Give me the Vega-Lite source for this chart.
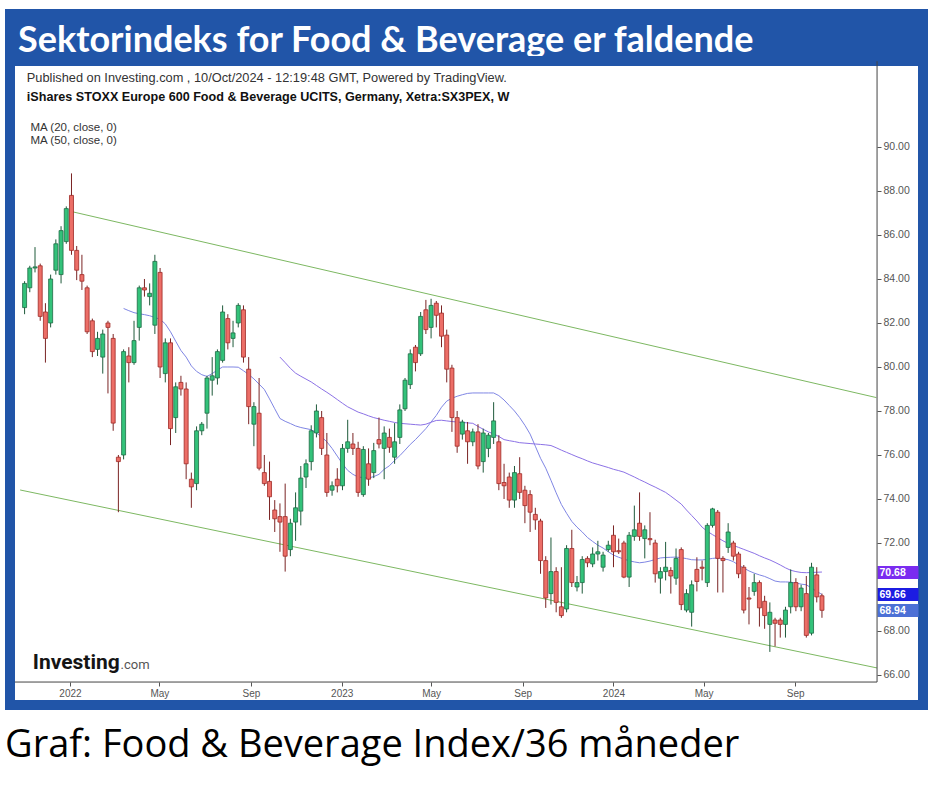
{
"$schema": "https://vega.github.io/schema/vega-lite/v6.json",
"background": "white",
"padding": {"left": 5, "top": 9, "right": 5, "bottom": 5},
"config": {"view": {"stroke": null}, "font": "Liberation Sans"},
"title": {"text": "Graf: Food & Beverage Index/36 måneder", "orient": "bottom", "anchor": "start", "font": "Open Sans", "fontSize": 38, "fontWeight": "normal", "color": "#000000", "offset": 17},
"spacing": 0,
"bounds": "flush",
"datasets": {
"bars": [
{"d":"2021-11-01","o":82.7,"h":83.9,"l":82.4,"c":83.8},
{"d":"2021-11-08","o":83.6,"h":84.6,"l":83.4,"c":84.5},
{"d":"2021-11-15","o":84.5,"h":85.45,"l":84.3,"c":84.55},
{"d":"2021-11-22","o":84.6,"h":84.7,"l":82.1,"c":82.3},
{"d":"2021-11-29","o":82.5,"h":82.9,"l":80.2,"c":81.3},
{"d":"2021-12-06","o":82.0,"h":84.2,"l":81.8,"c":84.0},
{"d":"2021-12-13","o":84.4,"h":85.8,"l":84.2,"c":85.6},
{"d":"2021-12-20","o":84.2,"h":86.4,"l":83.8,"c":86.2},
{"d":"2021-12-27","o":85.7,"h":87.3,"l":85.6,"c":87.2},
{"d":"2022-01-03","o":87.8,"h":88.8,"l":85.1,"c":85.3},
{"d":"2022-01-10","o":85.3,"h":85.5,"l":83.95,"c":84.4},
{"d":"2022-01-17","o":84.2,"h":85.1,"l":83.5,"c":83.9},
{"d":"2022-01-24","o":83.6,"h":83.7,"l":81.5,"c":81.6},
{"d":"2022-01-31","o":82.1,"h":82.2,"l":80.45,"c":80.7},
{"d":"2022-02-07","o":80.8,"h":81.6,"l":80.5,"c":81.3},
{"d":"2022-02-14","o":80.45,"h":81.7,"l":79.7,"c":81.5},
{"d":"2022-02-21","o":82.0,"h":82.1,"l":78.8,"c":81.8},
{"d":"2022-02-28","o":81.3,"h":81.5,"l":77.1,"c":77.45},
{"d":"2022-03-07","o":75.9,"h":76.0,"l":73.4,"c":75.7},
{"d":"2022-03-14","o":76.0,"h":80.8,"l":75.8,"c":80.7,"m20":82.66},
{"d":"2022-03-21","o":80.5,"h":80.9,"l":79.3,"c":80.2,"m20":82.56},
{"d":"2022-03-28","o":80.2,"h":82.1,"l":80.1,"c":81.2,"m20":82.47},
{"d":"2022-04-04","o":81.8,"h":83.7,"l":81.2,"c":83.6,"m20":82.42},
{"d":"2022-04-11","o":83.6,"h":84.0,"l":83.2,"c":83.5,"m20":82.38},
{"d":"2022-04-18","o":83.2,"h":83.8,"l":82.8,"c":83.35,"m20":82.33},
{"d":"2022-04-25","o":81.9,"h":85.1,"l":81.5,"c":84.8,"m20":82.25},
{"d":"2022-05-02","o":84.3,"h":84.5,"l":79.5,"c":80.0,"m20":82.17},
{"d":"2022-05-09","o":79.7,"h":81.3,"l":79.3,"c":81.1,"m20":81.96},
{"d":"2022-05-16","o":81.1,"h":81.3,"l":76.45,"c":77.2,"m20":81.6},
{"d":"2022-05-23","o":77.7,"h":79.3,"l":77.0,"c":79.1,"m20":81.17},
{"d":"2022-05-30","o":79.3,"h":79.6,"l":78.7,"c":79.0,"m20":80.75},
{"d":"2022-06-06","o":79.0,"h":79.3,"l":74.9,"c":75.6,"m20":80.45},
{"d":"2022-06-13","o":74.9,"h":75.2,"l":73.6,"c":74.55,"m20":80.05},
{"d":"2022-06-20","o":74.7,"h":77.3,"l":74.4,"c":77.1,"m20":79.8},
{"d":"2022-06-27","o":77.1,"h":77.5,"l":76.9,"c":77.4,"m20":79.65},
{"d":"2022-07-04","o":77.9,"h":79.6,"l":77.2,"c":79.5,"m20":79.57},
{"d":"2022-07-11","o":79.4,"h":80.45,"l":78.7,"c":79.6,"m20":79.7},
{"d":"2022-07-18","o":79.5,"h":80.8,"l":79.2,"c":80.7,"m20":79.86},
{"d":"2022-07-25","o":80.3,"h":82.8,"l":80.2,"c":82.5,"m20":80.0},
{"d":"2022-08-01","o":82.2,"h":82.4,"l":80.8,"c":81.1,"m20":80.0},
{"d":"2022-08-08","o":81.3,"h":82.1,"l":80.9,"c":81.55,"m20":80.0},
{"d":"2022-08-15","o":82.0,"h":82.9,"l":81.8,"c":82.8,"m20":79.99},
{"d":"2022-08-22","o":82.6,"h":82.8,"l":80.2,"c":80.45,"m20":79.83},
{"d":"2022-08-29","o":79.9,"h":80.45,"l":77.4,"c":78.2,"m20":79.66},
{"d":"2022-09-05","o":77.4,"h":78.4,"l":76.4,"c":78.2,"m20":79.46},
{"d":"2022-09-12","o":77.9,"h":79.5,"l":75.3,"c":75.4,"m20":79.22},
{"d":"2022-09-19","o":75.2,"h":76.0,"l":74.6,"c":74.7,"m20":78.98},
{"d":"2022-09-26","o":74.8,"h":75.7,"l":73.05,"c":74.1,"m20":78.55},
{"d":"2022-10-03","o":73.5,"h":73.95,"l":72.5,"c":73.1,"m20":78.1},
{"d":"2022-10-10","o":73.2,"h":73.8,"l":71.6,"c":72.95,"m20":77.66,"m50":80.45},
{"d":"2022-10-17","o":73.2,"h":74.7,"l":70.7,"c":71.4,"m20":77.53,"m50":80.2},
{"d":"2022-10-24","o":71.7,"h":73.1,"l":71.4,"c":72.9,"m20":77.43,"m50":79.94},
{"d":"2022-10-31","o":72.95,"h":74.3,"l":72.1,"c":73.6,"m20":77.32,"m50":79.72},
{"d":"2022-11-07","o":73.45,"h":75.5,"l":72.8,"c":74.95,"m20":77.25,"m50":79.58},
{"d":"2022-11-14","o":75.0,"h":75.8,"l":74.5,"c":75.6,"m20":77.2,"m50":79.45},
{"d":"2022-11-21","o":75.7,"h":77.35,"l":75.3,"c":77.1,"m20":77.15,"m50":79.32},
{"d":"2022-11-28","o":77.0,"h":78.3,"l":76.8,"c":78.0,"m20":77.0,"m50":79.16},
{"d":"2022-12-05","o":77.7,"h":78.0,"l":76.0,"c":76.3,"m20":76.82,"m50":79.0},
{"d":"2022-12-12","o":76.0,"h":77.0,"l":74.1,"c":74.3,"m20":76.6,"m50":78.85},
{"d":"2022-12-19","o":74.4,"h":74.8,"l":74.15,"c":74.6,"m20":76.3,"m50":78.69},
{"d":"2022-12-26","o":74.9,"h":75.4,"l":74.3,"c":74.6,"m20":75.95,"m50":78.52},
{"d":"2023-01-02","o":74.6,"h":76.5,"l":74.4,"c":76.3,"m20":75.6,"m50":78.35},
{"d":"2023-01-09","o":76.3,"h":77.6,"l":76.1,"c":76.6,"m20":75.3,"m50":78.19},
{"d":"2023-01-16","o":76.5,"h":77.0,"l":76.0,"c":76.3,"m20":75.12,"m50":78.07},
{"d":"2023-01-23","o":76.3,"h":76.6,"l":74.1,"c":74.3,"m20":75.0,"m50":77.95},
{"d":"2023-01-30","o":74.2,"h":76.4,"l":74.1,"c":76.25,"m20":74.97,"m50":77.87},
{"d":"2023-02-06","o":75.6,"h":76.3,"l":74.6,"c":74.9,"m20":74.95,"m50":77.78},
{"d":"2023-02-13","o":75.2,"h":76.55,"l":74.95,"c":76.2,"m20":75.02,"m50":77.7},
{"d":"2023-02-20","o":76.7,"h":77.7,"l":76.3,"c":76.5,"m20":75.12,"m50":77.64},
{"d":"2023-02-27","o":76.3,"h":77.3,"l":74.9,"c":77.0,"m20":75.35,"m50":77.58},
{"d":"2023-03-06","o":76.8,"h":77.2,"l":76.1,"c":76.35,"m20":75.51,"m50":77.53},
{"d":"2023-03-13","o":75.9,"h":77.45,"l":75.6,"c":76.6,"m20":75.75,"m50":77.48},
{"d":"2023-03-20","o":76.8,"h":78.3,"l":76.5,"c":78.05,"m20":75.97,"m50":77.44},
{"d":"2023-03-27","o":78.1,"h":79.5,"l":78.0,"c":79.4,"m20":76.22,"m50":77.42},
{"d":"2023-04-03","o":79.2,"h":80.8,"l":79.0,"c":80.6,"m20":76.48,"m50":77.4},
{"d":"2023-04-10","o":80.9,"h":81.0,"l":79.8,"c":80.2,"m20":76.7,"m50":77.38},
{"d":"2023-04-17","o":80.6,"h":82.5,"l":80.5,"c":82.3,"m20":76.95,"m50":77.36},
{"d":"2023-04-24","o":82.6,"h":83.05,"l":81.5,"c":81.7,"m20":77.2,"m50":77.4},
{"d":"2023-05-01","o":81.8,"h":83.1,"l":81.3,"c":82.8,"m20":77.5,"m50":77.49},
{"d":"2023-05-08","o":82.9,"h":83.0,"l":81.8,"c":82.35,"m20":77.8,"m50":77.57},
{"d":"2023-05-15","o":82.45,"h":82.8,"l":80.9,"c":81.4,"m20":78.17,"m50":77.58},
{"d":"2023-05-22","o":81.45,"h":81.7,"l":79.3,"c":79.9,"m20":78.45,"m50":77.55},
{"d":"2023-05-29","o":79.95,"h":80.1,"l":77.05,"c":77.7,"m20":78.58,"m50":77.52},
{"d":"2023-06-05","o":77.7,"h":78.0,"l":76.1,"c":76.4,"m20":78.67,"m50":77.5},
{"d":"2023-06-12","o":76.95,"h":77.6,"l":76.7,"c":77.5,"m20":78.74,"m50":77.48},
{"d":"2023-06-19","o":77.1,"h":77.5,"l":75.6,"c":76.6,"m20":78.8,"m50":77.46},
{"d":"2023-06-26","o":76.6,"h":77.2,"l":76.4,"c":77.05,"m20":78.82,"m50":77.44},
{"d":"2023-07-03","o":77.05,"h":77.4,"l":75.35,"c":75.5,"m20":78.82,"m50":77.3},
{"d":"2023-07-10","o":75.7,"h":77.2,"l":75.2,"c":77.0,"m20":78.82,"m50":77.17},
{"d":"2023-07-17","o":76.3,"h":77.0,"l":75.9,"c":76.9,"m20":78.82,"m50":77.05},
{"d":"2023-07-24","o":76.8,"h":78.4,"l":76.5,"c":77.55,"m20":78.82,"m50":76.96},
{"d":"2023-07-31","o":76.6,"h":76.9,"l":74.4,"c":74.7,"m20":78.7,"m50":76.84},
{"d":"2023-08-07","o":74.75,"h":75.6,"l":74.0,"c":74.6,"m20":78.5,"m50":76.7},
{"d":"2023-08-14","o":75.0,"h":75.2,"l":73.6,"c":73.95,"m20":78.25,"m50":76.65},
{"d":"2023-08-21","o":73.95,"h":75.5,"l":73.6,"c":75.2,"m20":78.0,"m50":76.61},
{"d":"2023-08-28","o":75.15,"h":75.9,"l":74.0,"c":74.3,"m20":77.7,"m50":76.56},
{"d":"2023-09-04","o":74.4,"h":74.6,"l":72.9,"c":73.7,"m20":77.35,"m50":76.54},
{"d":"2023-09-11","o":74.2,"h":74.4,"l":72.5,"c":73.4,"m20":76.95,"m50":76.52},
{"d":"2023-09-18","o":73.3,"h":73.6,"l":72.6,"c":73.05,"m20":76.4,"m50":76.5},
{"d":"2023-09-25","o":73.0,"h":73.1,"l":70.6,"c":71.2,"m20":75.85,"m50":76.48},
{"d":"2023-10-02","o":71.2,"h":71.4,"l":69.05,"c":69.5,"m20":75.4,"m50":76.46},
{"d":"2023-10-09","o":69.7,"h":72.25,"l":69.2,"c":70.7,"m20":74.85,"m50":76.43},
{"d":"2023-10-16","o":70.7,"h":70.9,"l":68.85,"c":69.3,"m20":74.28,"m50":76.33},
{"d":"2023-10-23","o":69.1,"h":70.9,"l":68.6,"c":68.7,"m20":73.75,"m50":76.22},
{"d":"2023-10-30","o":69.0,"h":71.9,"l":68.85,"c":71.75,"m20":73.35,"m50":76.12},
{"d":"2023-11-06","o":71.75,"h":72.6,"l":70.0,"c":70.2,"m20":72.98,"m50":76.02},
{"d":"2023-11-13","o":70.0,"h":70.5,"l":69.8,"c":70.2,"m20":72.72,"m50":75.92},
{"d":"2023-11-20","o":70.2,"h":71.4,"l":69.7,"c":71.25,"m20":72.5,"m50":75.83},
{"d":"2023-11-27","o":71.3,"h":71.4,"l":70.9,"c":71.1,"m20":72.25,"m50":75.73},
{"d":"2023-12-04","o":71.05,"h":71.8,"l":70.9,"c":71.5,"m20":72.07,"m50":75.64},
{"d":"2023-12-11","o":71.5,"h":72.1,"l":71.2,"c":71.6,"m20":71.9,"m50":75.57},
{"d":"2023-12-18","o":70.9,"h":71.6,"l":70.7,"c":71.45,"m20":71.77,"m50":75.5},
{"d":"2023-12-25","o":71.7,"h":72.1,"l":71.6,"c":71.9,"m20":71.6,"m50":75.43},
{"d":"2024-01-01","o":72.35,"h":72.8,"l":70.9,"c":71.6,"m20":71.45,"m50":75.35},
{"d":"2024-01-08","o":71.65,"h":72.2,"l":71.5,"c":71.6,"m20":71.35,"m50":75.29},
{"d":"2024-01-15","o":72.0,"h":72.1,"l":70.4,"c":70.45,"m20":71.27,"m50":75.22},
{"d":"2024-01-22","o":70.45,"h":72.5,"l":70.0,"c":72.35,"m20":71.19,"m50":75.11},
{"d":"2024-01-29","o":72.3,"h":73.7,"l":72.1,"c":72.6,"m20":71.14,"m50":75.0},
{"d":"2024-02-05","o":72.9,"h":74.3,"l":72.1,"c":72.3,"m20":71.1,"m50":74.88},
{"d":"2024-02-12","o":72.2,"h":72.8,"l":71.3,"c":72.6,"m20":71.13,"m50":74.77},
{"d":"2024-02-19","o":72.2,"h":73.4,"l":71.9,"c":72.15,"m20":71.18,"m50":74.65},
{"d":"2024-02-26","o":72.0,"h":72.15,"l":70.2,"c":70.6,"m20":71.25,"m50":74.54},
{"d":"2024-03-04","o":70.4,"h":70.9,"l":69.7,"c":70.7,"m20":71.32,"m50":74.42},
{"d":"2024-03-11","o":70.7,"h":72.05,"l":70.3,"c":70.9,"m20":71.34,"m50":74.3},
{"d":"2024-03-18","o":70.75,"h":70.9,"l":69.7,"c":70.5,"m20":71.35,"m50":74.13},
{"d":"2024-03-25","o":70.4,"h":71.75,"l":70.1,"c":71.3,"m20":71.36,"m50":73.95},
{"d":"2024-04-01","o":71.7,"h":71.8,"l":68.95,"c":69.2,"m20":71.33,"m50":73.77},
{"d":"2024-04-08","o":68.95,"h":69.9,"l":68.85,"c":69.7,"m20":71.29,"m50":73.5},
{"d":"2024-04-15","o":68.85,"h":70.3,"l":68.2,"c":70.1,"m20":71.24,"m50":73.25},
{"d":"2024-04-22","o":70.8,"h":71.35,"l":69.8,"c":70.25,"m20":71.23,"m50":73.0},
{"d":"2024-04-29","o":70.9,"h":71.2,"l":70.3,"c":70.85,"m20":71.23,"m50":72.72},
{"d":"2024-05-06","o":70.2,"h":72.9,"l":70.0,"c":72.8,"m20":71.26,"m50":72.53},
{"d":"2024-05-13","o":72.8,"h":73.6,"l":72.7,"c":73.55,"m20":71.3,"m50":72.38},
{"d":"2024-05-20","o":73.4,"h":73.5,"l":69.75,"c":71.3,"m20":71.32,"m50":72.24},
{"d":"2024-05-27","o":71.3,"h":71.4,"l":69.75,"c":71.2,"m20":71.28,"m50":72.1},
{"d":"2024-06-03","o":71.8,"h":72.9,"l":71.55,"c":72.5,"m20":71.24,"m50":71.98},
{"d":"2024-06-10","o":72.0,"h":72.1,"l":71.2,"c":71.4,"m20":71.15,"m50":71.89},
{"d":"2024-06-17","o":71.5,"h":71.6,"l":70.4,"c":70.6,"m20":71.0,"m50":71.8},
{"d":"2024-06-24","o":70.9,"h":71.0,"l":68.8,"c":68.95,"m20":70.86,"m50":71.71},
{"d":"2024-07-01","o":69.5,"h":70.0,"l":68.3,"c":69.45,"m20":70.73,"m50":71.62},
{"d":"2024-07-08","o":69.8,"h":70.6,"l":69.6,"c":70.2,"m20":70.63,"m50":71.53},
{"d":"2024-07-15","o":70.2,"h":70.3,"l":68.2,"c":69.05,"m20":70.55,"m50":71.42},
{"d":"2024-07-22","o":69.35,"h":69.6,"l":68.1,"c":68.7,"m20":70.48,"m50":71.32},
{"d":"2024-07-29","o":68.3,"h":69.3,"l":67.05,"c":68.85,"m20":70.38,"m50":71.23},
{"d":"2024-08-05","o":68.5,"h":68.6,"l":67.3,"c":68.35,"m20":70.27,"m50":71.12},
{"d":"2024-08-12","o":68.5,"h":68.6,"l":67.7,"c":68.3,"m20":70.23,"m50":71.0},
{"d":"2024-08-19","o":68.3,"h":69.1,"l":67.7,"c":68.95,"m20":70.23,"m50":70.87},
{"d":"2024-08-26","o":69.1,"h":70.8,"l":68.8,"c":70.2,"m20":70.22,"m50":70.76},
{"d":"2024-09-02","o":70.2,"h":70.4,"l":68.9,"c":69.1,"m20":70.18,"m50":70.7},
{"d":"2024-09-09","o":69.1,"h":70.1,"l":68.9,"c":69.95,"m20":70.13,"m50":70.66},
{"d":"2024-09-16","o":69.7,"h":70.5,"l":67.7,"c":67.8,"m20":70.1,"m50":70.65},
{"d":"2024-09-23","o":67.9,"h":71.1,"l":67.8,"c":70.9,"m20":69.95,"m50":70.66},
{"d":"2024-09-30","o":70.55,"h":70.9,"l":69.3,"c":69.55,"m20":69.8,"m50":70.67},
{"d":"2024-10-07","o":69.6,"h":69.7,"l":68.6,"c":68.94,"m20":69.66,"m50":70.68}
],
"channel": [
{"line":"upper","d":"2022-01-05","p":87.05},
{"line":"upper","d":"2024-12-19","p":78.61},
{"line":"lower","d":"2021-10-26","p":74.41},
{"line":"lower","d":"2024-12-20","p":66.32}
]
},
"vconcat": [
{
"width": 913, "height": 47,
"view": {"fill": "#2155A8", "stroke": "#2155A8", "strokeWidth": 10},
"data": {"values": [{"t": "Sektorindeks for Food & Beverage er faldende"}]},
"mark": {"type": "text", "align": "left", "baseline": "alphabetic", "dx": -448.5, "dy": 14.5, "font": "Lato", "fontSize": 36, "fontWeight": "bold", "color": "#ffffff"},
"encoding": {"text": {"field": "t", "type": "nominal"}}
},
{
"width": 913, "height": 644,
"view": {"fill": "#ffffff", "stroke": "#2155A8", "strokeWidth": 10},
"layer": [
{
"data": {"name": "channel"},
"mark": {"type": "line", "color": "#7DB862", "strokeWidth": 1},
"encoding": {
"x": {"field": "d", "type": "temporal", "title": null,
"scale": {"type": "utc", "nice": false, "padding": 0, "domain": [{"year": 2021, "month": 10, "date": 12, "hours": 10, "utc": true}, {"year": 2025, "month": 2, "date": 19, "hours": 17, "utc": true}]},
"axis": {"orient": "bottom", "offset": -23, "domain": false, "grid": false,
"values": [{"year": 2022, "month": 1, "date": 1, "utc": true}, {"year": 2022, "month": 5, "date": 1, "utc": true}, {"year": 2022, "month": 9, "date": 1, "utc": true}, {"year": 2023, "month": 1, "date": 1, "utc": true}, {"year": 2023, "month": 5, "date": 1, "utc": true}, {"year": 2023, "month": 9, "date": 1, "utc": true}, {"year": 2024, "month": 1, "date": 1, "utc": true}, {"year": 2024, "month": 5, "date": 1, "utc": true}, {"year": 2024, "month": 9, "date": 1, "utc": true}],
"labelExpr": "utcmonth(datum.value) === 0 ? utcFormat(datum.value, '%Y') : utcFormat(datum.value, '%b')",
"labelFont": "Liberation Sans", "labelFontSize": 10, "labelColor": "#555555", "tickColor": "#555555", "tickSize": 4, "labelPadding": 2, "labelOverlap": false, "labelFlush": false}},
"y": {"field": "p", "type": "quantitative", "title": null,
"scale": {"domain": [64.636, 93.909], "zero": false, "nice": false},
"axis": {"orient": "right", "offset": -46, "domain": false, "grid": false,
"values": [66, 68, 68.94, 69.66, 70.68, 72, 74, 76, 78, 80, 82, 84, 86, 88, 90],
"format": ".2f", "labelFont": "Liberation Sans", "labelFontSize": 10.5, "labelOverlap": false, "labelBound": false,
"labelColor": {"condition": {"test": "datum.value === 70.68 || datum.value === 69.66 || datum.value === 68.94", "value": "#ffffff"}, "value": "#555555"},
"labelFontWeight": {"condition": {"test": "datum.value === 70.68 || datum.value === 69.66 || datum.value === 68.94", "value": "bold"}, "value": "normal"},
"labelPadding": {"condition": {"test": "datum.value === 70.68 || datum.value === 69.66 || datum.value === 68.94", "value": -39}, "value": 2},
"tickSize": {"condition": {"test": "datum.value === 70.68 || datum.value === 69.66 || datum.value === 68.94", "value": 41}, "value": 4},
"tickWidth": {"condition": {"test": "datum.value === 70.68 || datum.value === 69.66 || datum.value === 68.94", "value": 13}, "value": 1},
"tickColor": {"condition": [{"test": "datum.value === 70.68", "value": "#7A2CF0"}, {"test": "datum.value === 69.66", "value": "#1C1CE2"}, {"test": "datum.value === 68.94", "value": "#4C70D6"}], "value": "#555555"}}},
"detail": {"field": "line", "type": "nominal"}
}
},
{
"data": {"name": "bars"},
"mark": {"type": "line", "color": "#7F86E4", "strokeWidth": 1},
"encoding": {
"x": {"field": "d", "type": "temporal", "title": null},
"y": {"field": "m20", "type": "quantitative", "title": null}
}
},
{
"data": {"name": "bars"},
"mark": {"type": "line", "color": "#8C72E6", "strokeWidth": 1},
"encoding": {
"x": {"field": "d", "type": "temporal", "title": null},
"y": {"field": "m50", "type": "quantitative", "title": null}
}
},
{
"data": {"name": "bars"},
"mark": {"type": "rule", "strokeWidth": 1},
"encoding": {
"x": {"field": "d", "type": "temporal", "title": null},
"y": {"field": "l", "type": "quantitative", "title": null},
"y2": {"field": "h"},
"color": {"condition": {"test": "datum.c < datum.o", "value": "#7A2424"}, "value": "#1F5A3B"}
}
},
{
"data": {"name": "bars"},
"mark": {"type": "bar", "width": 4, "strokeWidth": 0.8},
"encoding": {
"x": {"field": "d", "type": "temporal", "title": null},
"y": {"field": "o", "type": "quantitative", "title": null},
"y2": {"field": "c"},
"fill": {"condition": {"test": "datum.c < datum.o", "value": "#EC6E67"}, "value": "#33C27A"},
"stroke": {"condition": {"test": "datum.c < datum.o", "value": "#9E2A26"}, "value": "#1E6B45"}
}
},
{
"data": {"values": [{"t": "Published on Investing.com , 10/Oct/2024 - 12:19:48 GMT, Powered by TradingView."}]},
"mark": {"type": "text", "align": "left", "baseline": "middle", "font": "Liberation Sans", "fontSize": 12.8, "color": "#333333"},
"encoding": {"text": {"field": "t", "type": "nominal"},
"x": {"datum": {"year": 2021, "month": 11, "date": 4, "utc": true}, "type": "temporal", "title": null},
"y": {"datum": 93.14, "type": "quantitative", "title": null}}
},
{
"data": {"values": [{"t": "iShares STOXX Europe 600 Food & Beverage UCITS, Germany, Xetra:SX3PEX, W"}]},
"mark": {"type": "text", "align": "left", "baseline": "middle", "font": "Liberation Sans", "fontSize": 12.6, "fontWeight": "bold", "color": "#111111"},
"encoding": {"text": {"field": "t", "type": "nominal"},
"x": {"datum": {"year": 2021, "month": 11, "date": 4, "utc": true}, "type": "temporal", "title": null},
"y": {"datum": 92.27, "type": "quantitative", "title": null}}
},
{
"data": {"values": [{"t": "MA (20, close, 0)"}]},
"mark": {"type": "text", "align": "left", "baseline": "middle", "font": "Liberation Sans", "fontSize": 11.5, "color": "#333333"},
"encoding": {"text": {"field": "t", "type": "nominal"},
"x": {"datum": {"year": 2021, "month": 11, "date": 9, "utc": true}, "type": "temporal", "title": null},
"y": {"datum": 90.87, "type": "quantitative", "title": null}}
},
{
"data": {"values": [{"t": "MA (50, close, 0)"}]},
"mark": {"type": "text", "align": "left", "baseline": "middle", "font": "Liberation Sans", "fontSize": 11.5, "color": "#333333"},
"encoding": {"text": {"field": "t", "type": "nominal"},
"x": {"datum": {"year": 2021, "month": 11, "date": 9, "utc": true}, "type": "temporal", "title": null},
"y": {"datum": 90.25, "type": "quantitative", "title": null}}
},
{
"data": {"values": [{"t": "Investing"}]},
"mark": {"type": "text", "align": "left", "baseline": "alphabetic", "font": "Roboto", "fontSize": 21, "fontWeight": "bold", "color": "#151515"},
"encoding": {"text": {"field": "t", "type": "nominal"},
"x": {"datum": {"year": 2021, "month": 11, "date": 12, "utc": true}, "type": "temporal", "title": null},
"y": {"datum": 66.27, "type": "quantitative", "title": null}}
},
{
"data": {"values": [{"t": ".com"}]},
"mark": {"type": "text", "align": "left", "baseline": "alphabetic", "font": "Roboto", "fontSize": 13, "color": "#555555"},
"encoding": {"text": {"field": "t", "type": "nominal"},
"x": {"datum": {"year": 2022, "month": 3, "date": 10, "utc": true}, "type": "temporal", "title": null},
"y": {"datum": 66.27, "type": "quantitative", "title": null}}
},
{
"data": {"values": [{}]},
"mark": {"type": "rule", "color": "#444444", "strokeWidth": 1},
"encoding": {
"x": {"datum": {"year": 2021, "month": 10, "date": 19, "utc": true}, "type": "temporal", "title": null},
"x2": {"datum": {"year": 2024, "month": 12, "date": 20, "utc": true}},
"y": {"datum": 65.68, "type": "quantitative", "title": null}}
},
{
"data": {"values": [{}]},
"mark": {"type": "rule", "color": "#444444", "strokeWidth": 1},
"encoding": {
"x": {"datum": {"year": 2024, "month": 12, "date": 20, "utc": true}, "type": "temporal", "title": null},
"y": {"datum": 65.68, "type": "quantitative", "title": null},
"y2": {"datum": 93.9}}
}
]
}
]
}
